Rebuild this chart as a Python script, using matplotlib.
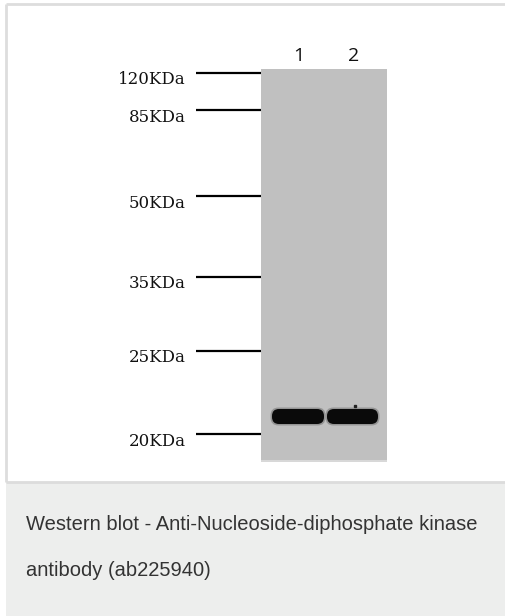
import matplotlib
matplotlib.use("Agg")
import matplotlib.pyplot as plt
from matplotlib.patches import Rectangle, FancyBboxPatch

# Marcadores de peso molecular y posicion de migracion (px desde arriba)
marker_kda = [120, 85, 50, 35, 25, 20]
marker_pos = [73, 110, 196, 277, 351, 434]

# Carriles y bandas detectadas
lanes = ["1", "2"]
lane_left = [272, 327]
lane_right = [324, 378]
band_pos = [416.5, 416.5]
band_height = [15, 15]

caption_lines = [
    "Western blot - Anti-Nucleoside-diphosphate kinase",
    "antibody (ab225940)",
]

W, H = 506, 616
fig = plt.figure(figsize=(W / 100, H / 100), dpi=100)
ax = fig.add_axes([0, 0, 1, 1])
ax.set_xlim(0, W)
ax.set_ylim(H, 0)
ax.axis("off")

# marco blanco y zona de leyenda gris
ax.add_patch(Rectangle((6, 4), W, 477, facecolor="white", edgecolor="none"))
ax.plot([6, 6], [4, 482], color="#dddddd", lw=2, solid_capstyle="butt")
ax.plot([6, W], [4, 4], color="#dddddd", lw=2, solid_capstyle="butt")
ax.add_patch(Rectangle((6, 482), W, H - 482, facecolor="#edeeed", edgecolor="none"))
ax.plot([6, W], [482, 482], color="#dcdcdc", lw=2, solid_capstyle="butt")

# membrana
gel_left, gel_right, gel_top, gel_bottom = 261, 387, 69, 460
ax.add_patch(Rectangle((gel_left, gel_top), gel_right - gel_left, gel_bottom - gel_top,
                       facecolor="#c0c0c0", edgecolor="none"))
ax.add_patch(Rectangle((gel_left, gel_bottom), gel_right - gel_left, 1.5,
                       facecolor="#d8d8d8", edgecolor="none"))

# escalera de marcadores
for kda, y in zip(marker_kda, marker_pos):
    ax.plot([196, gel_left], [y, y], color="black", lw=1.6, solid_capstyle="butt")
    ax.text(186, y + 7, f"{kda}KDa", ha="right", va="center",
            family="DejaVu Serif", fontsize=12, color="#111111")

# bandas
for name, x0, x1, y, h in zip(lanes, lane_left, lane_right, band_pos, band_height):
    ax.add_patch(FancyBboxPatch((x0 - 1.5, y - h / 2 - 1.5), x1 - x0 + 3, h + 3,
                                boxstyle="round,pad=0,rounding_size=8",
                                facecolor="#444444", edgecolor="none", alpha=0.35))
    ax.add_patch(FancyBboxPatch((x0, y - h / 2), x1 - x0, h,
                                boxstyle="round,pad=0,rounding_size=7",
                                facecolor="#0a0a0a", edgecolor="none"))
    ax.text((x0 + x1) / 2 + 1, 56, name, ha="center", va="center",
            family="Open Sans", fontsize=14, color="#111111")

ax.plot([355], [406], marker="s", ms=1.5, color="#222222")

# leyenda
for i, line in enumerate(caption_lines):
    ax.text(26, 525 + 45 * i, line, ha="left", va="center",
            family="Liberation Sans", fontsize=14.5, color="#333333")

fig.savefig("out.png", dpi=100)
plt.close(fig)
